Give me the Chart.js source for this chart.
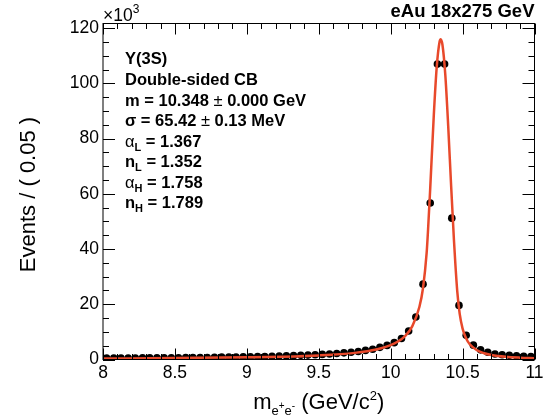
<!DOCTYPE html>
<html><head><meta charset="utf-8">
<script src="https://cdn.jsdelivr.net/npm/chart.js@4.4.1/dist/chart.umd.min.js"></script>
<style>html,body{margin:0;padding:0;background:#fff;}canvas{display:block;}</style>
</head><body>
<canvas id="c" width="551" height="418"></canvas>
<script>
// ---- data (events in units of 10^3 per 0.05 GeV bin) ----
const binCenters = [
  8.025, 8.075, 8.125, 8.175, 8.225, 8.275, 8.325, 8.375, 8.425, 8.475,
  8.525, 8.575, 8.625, 8.675, 8.725, 8.775, 8.825, 8.875, 8.925, 8.975,
  9.025, 9.075, 9.125, 9.175, 9.225, 9.275, 9.325, 9.375, 9.425, 9.475,
  9.525, 9.575, 9.625, 9.675, 9.725, 9.775, 9.825, 9.875, 9.925, 9.975,
  10.025, 10.075, 10.125, 10.175, 10.225, 10.275, 10.325, 10.375, 10.425, 10.475,
  10.525, 10.575, 10.625, 10.675, 10.725, 10.775, 10.825, 10.875, 10.925, 10.975
];
const eventsK = [
  0.55, 0.55, 0.55, 0.55, 0.55, 0.6, 0.6, 0.6, 0.6, 0.65,
  0.65, 0.7, 0.7, 0.75, 0.75, 0.8, 0.85, 0.85, 0.9, 0.95,
  1.0, 1.05, 1.1, 1.15, 1.25, 1.3, 1.4, 1.5, 1.6, 1.7,
  1.85, 2.0, 2.2, 2.4, 2.65, 2.9, 3.3, 3.7, 4.4, 5.1,
  6.1, 7.6, 10.3, 15.4, 27.3, 56.7, 107.0, 107.0, 51.2, 19.6,
  8.8, 5.2, 3.5, 2.6, 2.0, 1.7, 1.5, 1.35, 1.2, 1.1
];
// fit curve
const fitMass = [8.0, 8.5, 9.0, 9.25, 9.5, 9.75, 9.9, 10.0, 10.05, 10.1, 10.15, 10.2, 10.225, 10.25, 10.26, 10.275, 10.3, 10.32, 10.34, 10.348, 10.36, 10.38, 10.4, 10.42, 10.44, 10.45, 10.463, 10.48, 10.5, 10.525, 10.55, 10.6, 10.65, 10.7, 10.8, 10.9, 11.0];
const fitK    = [0.36, 0.50, 0.77, 1.0, 1.46, 2.4, 3.6, 5.2, 6.5, 8.5, 12.0, 19.1, 25.9, 38.5, 47, 62, 88.6, 105.8, 115.1, 116, 114, 103, 84.6, 63.3, 43.2, 34.4, 24.7, 16.5, 11.2, 7.6, 5.5, 3.35, 2.26, 1.64, 0.98, 0.66, 0.48];

const xTickLabels = ['8', '8.5', '9', '9.5', '10', '10.5', '11'];
const yTickLabels = ['0', '20', '40', '60', '80', '100', '120'];

const headerText = 'eAu 18x275 GeV';
const stateLabels = ['\u03A5(3S)', 'Double-sided CB'];
const paramValues = ['10.348', '0.000', '65.42', '0.13', '1.367', '1.352', '1.758', '1.789'];
const yTitle = 'Events / ( 0.05 )';

// ---- styles ----
const FAM = '"Liberation Sans", Arial, Helvetica, sans-serif';
const RED = '#e8492b';
const B16 = 'bold 16.5px ' + FAM;
const N16 = '16.5px ' + FAM;
const SUB = 'bold 11px ' + FAM;

function runs(ctx, x, y, parts) {
  for (const [t, f, dy] of parts) {
    ctx.font = f;
    ctx.fillText(t, x, y + (dy || 0));
    x += ctx.measureText(t).width;
  }
  return x;
}
function runsWidth(ctx, parts) {
  let w = 0;
  for (const [t, f] of parts) { ctx.font = f; w += ctx.measureText(t).width; }
  return w;
}

const rootFrame = {
  id: 'rootFrame',
  afterDatasetsDraw(chart) {
    const {ctx, chartArea: a, scales: {x, y}} = chart;
    ctx.save();
    ctx.strokeStyle = '#000';
    ctx.lineWidth = 1;
    ctx.beginPath();
    for (let i = 0; i <= 30; i++) {
      const px = Math.round(x.getPixelForValue(8 + i * 0.1)) + 0.5;
      const len = i % 5 === 0 ? 11 : 5.5;
      ctx.moveTo(px, a.bottom); ctx.lineTo(px, a.bottom - len);
      ctx.moveTo(px, a.top); ctx.lineTo(px, a.top + len);
    }
    for (let i = 0; i <= 24; i++) {
      const py = Math.round(y.getPixelForValue(i * 5)) + 0.5;
      const len = i % 4 === 0 ? 12 : 6;
      ctx.moveTo(a.left, py); ctx.lineTo(a.left + len, py);
      ctx.moveTo(a.right, py); ctx.lineTo(a.right - len, py);
    }
    ctx.stroke();
    ctx.strokeRect(a.left, a.top, a.right - a.left, a.bottom - a.top);
    ctx.restore();
  },
  afterDraw(chart) {
    const {ctx, chartArea: a} = chart;
    ctx.save();
    ctx.fillStyle = '#000';
    ctx.textBaseline = 'alphabetic';
    ctx.textAlign = 'left';
    // x10^3
    runs(ctx, a.left, 21, [['\u00D710', '17.5px ' + FAM], ['3', '12px ' + FAM, -8]]);
    // header
    ctx.font = 'bold 18.5px ' + FAM;
    ctx.textAlign = 'right';
    ctx.fillText(headerText, a.right, 17);
    ctx.textAlign = 'left';
    // fit info
    const lx = 125;
    const base = [64, 85, 106, 126, 147, 167, 188, 208];
    runs(ctx, lx, base[0], [[stateLabels[0], B16]]);
    runs(ctx, lx, base[1], [[stateLabels[1], B16]]);
    runs(ctx, lx, base[2], [['m = ' + paramValues[0] + ' ', B16], ['\u00B1', N16], [' ' + paramValues[1] + ' GeV', B16]]);
    runs(ctx, lx, base[3], [['\u03C3 = ' + paramValues[2] + ' ', B16], ['\u00B1', N16], [' ' + paramValues[3] + ' MeV', B16]]);
    runs(ctx, lx, base[4], [['\u03B1', N16], ['L', SUB, 4], [' = ' + paramValues[4], B16]]);
    runs(ctx, lx, base[5], [['n', B16], ['L', SUB, 4], [' = ' + paramValues[5], B16]]);
    runs(ctx, lx, base[6], [['\u03B1', N16], ['H', SUB, 4], [' = ' + paramValues[6], B16]]);
    runs(ctx, lx, base[7], [['n', B16], ['H', SUB, 4], [' = ' + paramValues[7], B16]]);
    // x title
    const T = '22px ' + FAM, S = '13px ' + FAM, SS = '10px ' + FAM;
    const xt = [['m', T], ['e', S, 6], ['+', SS, 0], ['e', S, 6], ['-', SS, 0], [' (GeV/c', T], ['2', S, -9], [')', T]];
    const w = runsWidth(ctx, xt);
    runs(ctx, (a.left + a.right) / 2 - w / 2, 409, xt);
    // y title
    ctx.translate(34.5, (a.top + a.bottom) / 2 + 3);
    ctx.rotate(-Math.PI / 2);
    ctx.textAlign = 'center';
    ctx.font = '22px ' + FAM;
    ctx.fillText(yTitle, 0, 0);
    ctx.restore();
  }
};

const findLabel = (arr, v) => { const t = arr.find(s => Math.abs(Number(s) - v) < 1e-6); return t === undefined ? '' : t; };

new Chart(document.getElementById('c'), {
  type: 'scatter',
  data: {
    datasets: [
      {
        type: 'line',
        data: fitMass.map((m, i) => ({x: m, y: fitK[i]})),
        borderColor: RED, borderWidth: 2.5, pointRadius: 0, fill: false,
        cubicInterpolationMode: 'monotone', order: 0
      },
      {
        type: 'scatter',
        data: binCenters.map((m, i) => ({x: m, y: eventsK[i]})),
        backgroundColor: '#000', borderWidth: 0, pointRadius: 3.8, order: 1
      }
    ]
  },
  options: {
    responsive: false, animation: false, devicePixelRatio: 1,
    layout: {padding: {left: 0, right: 16.5, top: 23.5, bottom: 0}},
    plugins: {legend: {display: false}, tooltip: {enabled: false}},
    scales: {
      x: {
        type: 'linear', min: 8, max: 11,
        grid: {display: false, drawTicks: false, tickLength: 0}, border: {display: false},
        ticks: {stepSize: 0.5, autoSkip: false, maxRotation: 0, color: '#000', padding: 3,
                font: {family: FAM, size: 17.5}, callback: v => findLabel(xTickLabels, v)},
        afterFit(s) { s.height = 58.5; }
      },
      y: {
        min: 0, max: 121.7,
        grid: {display: false, drawTicks: false, tickLength: 0}, border: {display: false},
        ticks: {stepSize: 20, includeBounds: false, autoSkip: false, color: '#000', padding: 4,
                font: {family: FAM, size: 17.5}, callback: v => findLabel(yTickLabels, v)},
        afterFit(s) { s.width = 103; }
      }
    }
  },
  plugins: [rootFrame]
});
</script>
</body></html>
